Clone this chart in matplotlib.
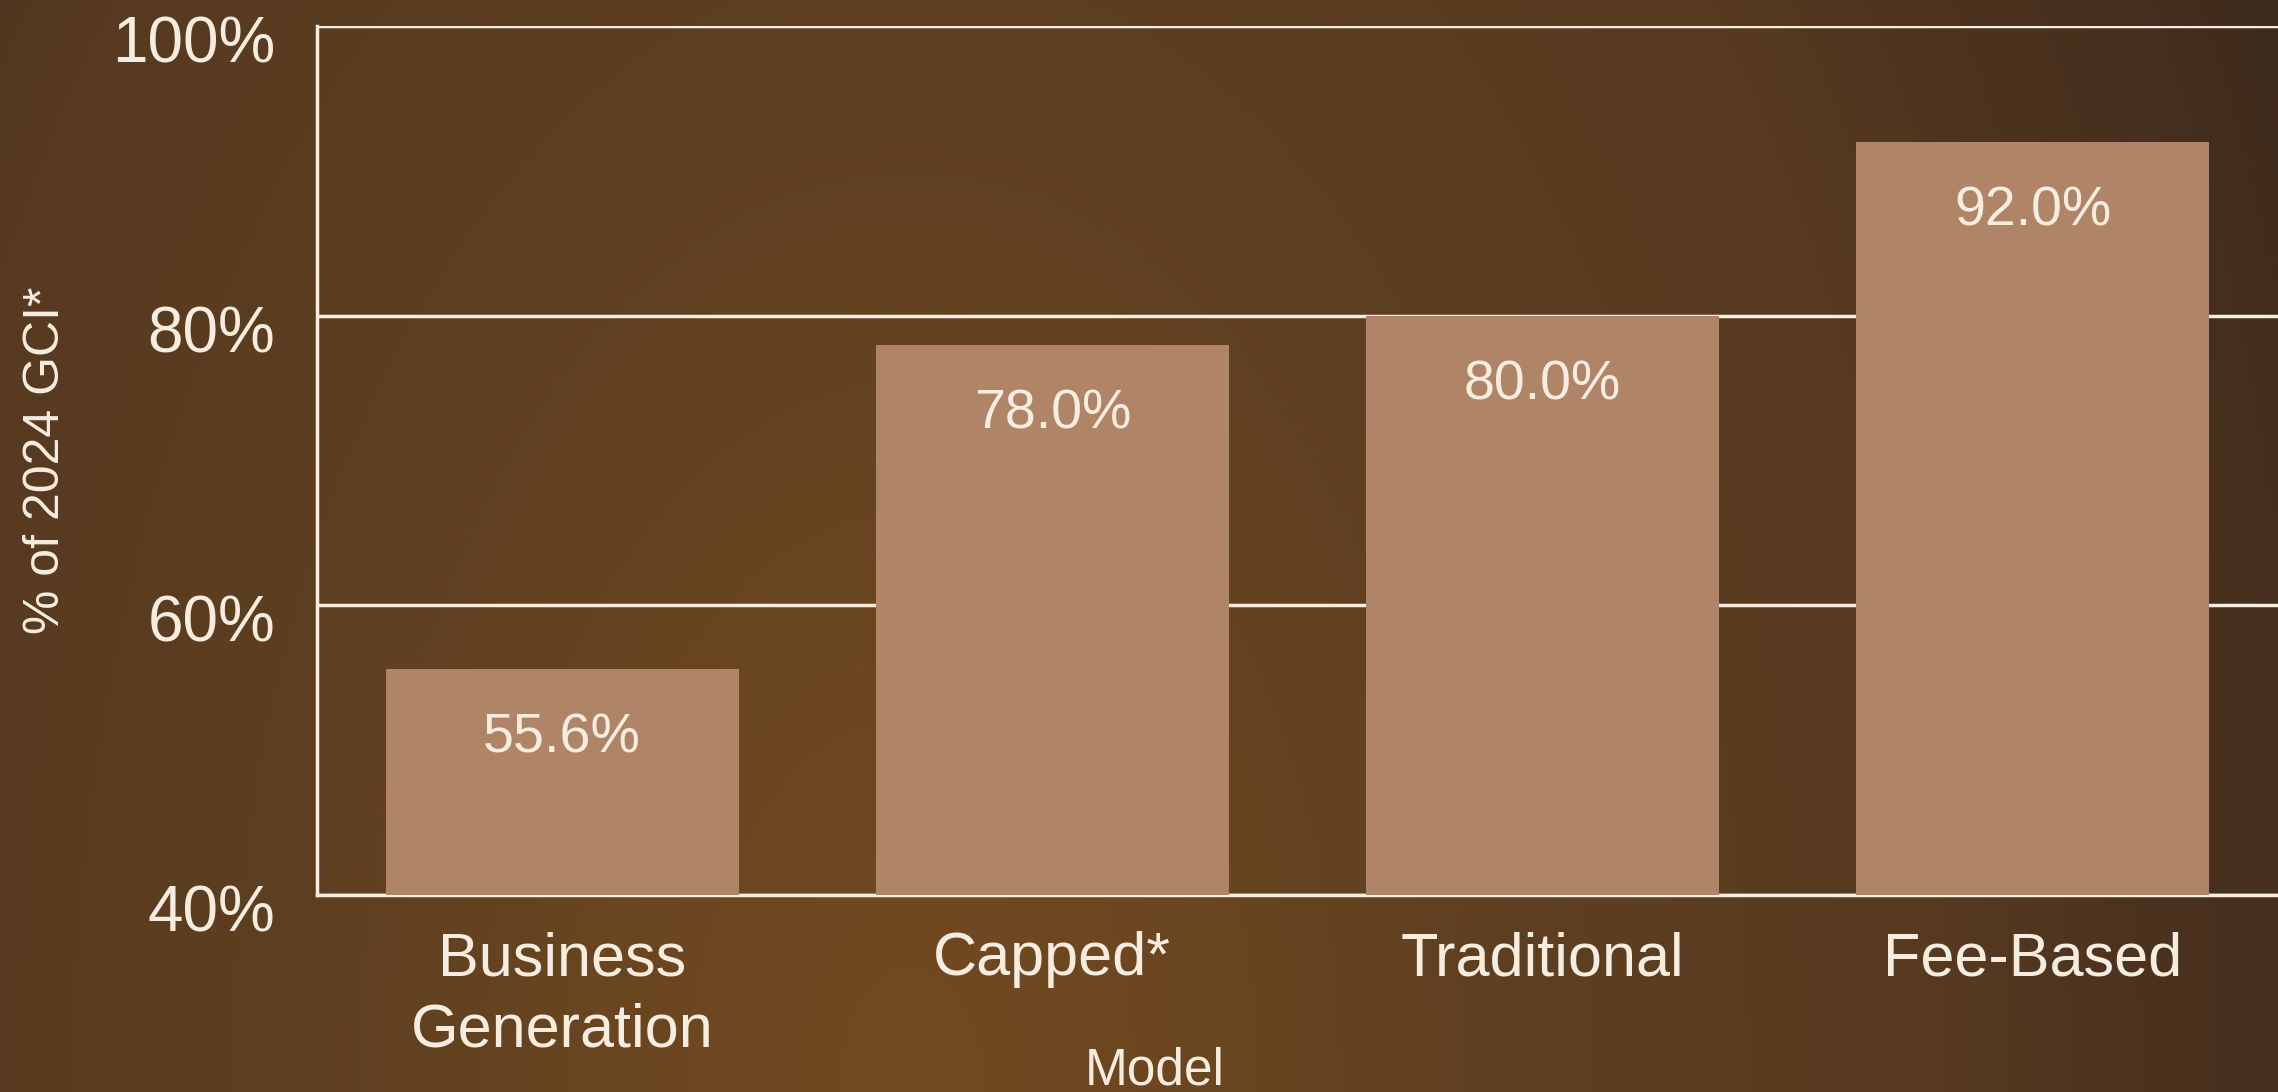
import numpy as np
import matplotlib
matplotlib.use("Agg")
import matplotlib.pyplot as plt
import matplotlib.transforms as mtransforms
from matplotlib.colors import to_rgb

categories = ["Business\nGeneration", "Capped*", "Traditional", "Fee-Based"]
values = [55.6, 78.0, 80.0, 92.0]
y_ticks = [40, 60, 80, 100]
y_tick_labels = ["40%", "60%", "80%", "100%"]

plt.rcParams['font.family'] = ['Liberation Sans', 'DejaVu Sans']
TEXT = "#f6ede0"
BAR = "#b08567"

W, H, DPI = 2278, 1092, 100
fig = plt.figure(figsize=(W / DPI, H / DPI), dpi=DPI)

# background gradient
bg = fig.add_axes([0, 0, 1, 1])
yy, xx = np.mgrid[0:1:300j, 0:1:600j]  # yy: 0 top -> 1 bottom
d = np.sqrt(((xx - 0.40) * 1.9) ** 2 + ((yy - 1.0) * 0.55) ** 2)
stops_d = [0.0, 0.25, 0.5, 0.85, 1.0, 1.3]
stops_c = [to_rgb(c) for c in ["#724a21", "#6a4620", "#5e3f21", "#573a20", "#4e341f", "#3d2a1c"]]
img = np.stack([np.interp(d, stops_d, [c[i] for c in stops_c]) for i in range(3)], axis=-1)
bg.imshow(img, aspect="auto", extent=[0, 1, 0, 1], origin="upper")
bg.set_axis_off()

ax = fig.add_axes([317 / W, 197 / H, 1 - 317 / W, (895 - 26) / H])
ax.set_facecolor("none")
x = np.arange(len(categories))
ax.bar(x, values, width=0.72, bottom=0, color=BAR, zorder=3)
ax.set_ylim(40, 100)
ax.set_xlim(-0.5, 3.5)

ax.set_yticks(y_ticks)
ax.set_yticklabels(y_tick_labels)
ax.set_xticks(x)
ax.set_xticklabels(categories)
ax.tick_params(axis="y", length=0, pad=30, labelsize=46, labelcolor=TEXT)
ax.tick_params(axis="x", length=0, pad=26, labelsize=44, labelcolor=TEXT)
off = mtransforms.ScaledTranslation(0, -13 / DPI, fig.dpi_scale_trans)
for lab in ax.get_yticklabels():
    lab.set_transform(lab.get_transform() + off)
for lab in ax.get_xticklabels():
    lab.set_linespacing(1.32)

ax.grid(axis="y", color=TEXT, linewidth=2.5, zorder=1)
ax.set_axisbelow(True)
for s in ["top", "right"]:
    ax.spines[s].set_visible(False)
for s in ["left", "bottom"]:
    ax.spines[s].set_color(TEXT)
    ax.spines[s].set_linewidth(2.5)

for xi, v in zip(x, values):
    ax.annotate(f"{v:.1f}%", xy=(xi, v), xytext=(0, -50), textcoords="offset points",
                ha="center", va="center", fontsize=40, color=TEXT, zorder=4)

ax.set_ylabel("% of 2024 GCI*", fontsize=36, color=TEXT)
ax.yaxis.set_label_coords((46 - 317) / (W - 317), 0.5)
ax.set_xlabel("Model", fontsize=37, color=TEXT)
ax.xaxis.set_label_coords((1155 - 317) / (W - 317), -(1071 - 895) / (895 - 26))
ax.xaxis.label.set_va("center")
ax.yaxis.label.set_va("center")

fig.savefig("out.png", dpi=DPI)
